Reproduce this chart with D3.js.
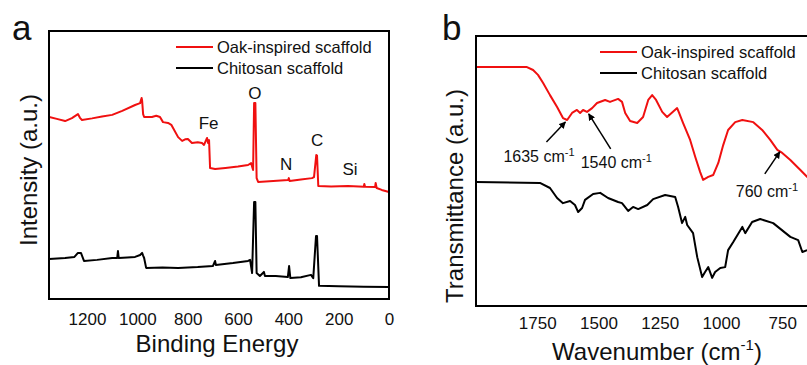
<!DOCTYPE html>
<html>
<head>
<meta charset="utf-8">
<script src="https://cdn.jsdelivr.net/npm/d3@7"></script>
<style>
  body { margin: 0; background: #fff; }
  text { font-family: "Liberation Sans", Arial, sans-serif; fill: #111; }
</style>
</head>
<body>
<script>
// ---- panel a: XPS survey (binding energy, eV) ----
var xpsOakEnergy = [1350, 1320, 1287, 1260, 1236, 1228, 1220, 1180, 1140, 1100, 1060, 1009, 989, 983, 981, 977, 973, 942, 925, 910, 898, 878, 865, 858, 838, 822, 810, 799, 783, 760, 743, 735, 723, 719, 715, 711, 691, 650, 600, 560, 548, 540, 536, 531, 526, 520, 460, 401, 398, 395, 350, 306, 298, 289, 286, 281, 230, 163, 120, 100, 98, 95, 55, 53, 49, 29, 0];
var xpsOakCounts = [67.9, 67.2, 66.4, 67.5, 69.0, 67.6, 66.8, 67.4, 68.1, 68.7, 70.2, 72.4, 73.1, 75.0, 74.0, 69.0, 67.9, 67.9, 68.4, 67.9, 66.0, 65.7, 65.0, 63.8, 60.4, 59.0, 59.6, 59.7, 58.2, 58.5, 58.2, 57.5, 60.1, 58.2, 59.3, 48.9, 48.5, 48.9, 49.4, 50.0, 50.7, 48.1, 73.1, 73.1, 45.1, 43.7, 44.0, 44.4, 45.1, 44.0, 44.6, 45.1, 45.5, 53.7, 53.5, 42.2, 42.0, 42.2, 42.0, 41.9, 42.9, 41.9, 41.8, 43.3, 41.4, 40.7, 39.9];
var xpsChiEnergy = [1350, 1287, 1250, 1236, 1224, 1212, 1160, 1100, 1080, 1077, 1074, 1040, 1009, 989, 981, 977, 973, 965, 900, 838, 760, 700, 691, 688, 620, 560, 552, 544, 536, 531, 526, 513, 497, 493, 450, 402, 397, 392, 350, 310, 301, 290, 286, 278, 200, 100, 0];
var xpsChiCounts = [14.9, 15.3, 15.7, 17.2, 17.2, 14.2, 14.6, 15.3, 15.3, 17.9, 15.3, 15.5, 15.7, 16.4, 17.2, 16.2, 15.3, 11.6, 11.8, 11.6, 11.9, 12.3, 14.2, 12.7, 13.4, 14.2, 14.6, 9.7, 36.2, 36.2, 9.7, 8.6, 10.1, 8.6, 8.6, 8.2, 12.3, 7.8, 8.1, 9.0, 7.8, 23.5, 23.5, 4.9, 4.8, 4.6, 4.5];
var xpsTicks = [1200, 1000, 800, 600, 400, 200, 0];
var xpsElements = ["Fe", "O", "N", "C", "Si"];
var xpsElementEnergy = [717, 533, 409, 286, 155];
var xpsElementLevel = [63.4, 74.6, 48.1, 57.1, 46.3];

// ---- panel b: FTIR (wavenumber, cm-1) ----
var ftirOakWave = [2000, 1792, 1767, 1747, 1726, 1698, 1669, 1645, 1628, 1608, 1588, 1575, 1563, 1547, 1526, 1506, 1473, 1453, 1420, 1404, 1391, 1371, 1342, 1318, 1297, 1281, 1265, 1240, 1220, 1196, 1179, 1171, 1155, 1126, 1105, 1085, 1073, 1052, 1032, 1011, 991, 971, 942, 913, 868, 832, 799, 770, 750, 717, 676, 648, 600];
var ftirOakTrans = [88.5, 88.5, 87.4, 85.6, 82.6, 78.1, 73.7, 69.6, 68.9, 71.5, 72.6, 71.5, 72.6, 71.9, 73.3, 75.2, 76.3, 75.6, 76.7, 75.6, 71.5, 68.5, 67.8, 70.0, 76.3, 78.1, 76.3, 71.9, 70.0, 71.9, 73.3, 71.5, 67.8, 61.5, 55.2, 49.6, 46.7, 47.8, 48.5, 53.0, 59.6, 65.2, 68.1, 68.9, 68.1, 65.2, 61.5, 57.8, 56.7, 54.1, 50.4, 47.8, 44.4];
var ftirChiWave = [2000, 1739, 1698, 1669, 1645, 1616, 1596, 1583, 1567, 1555, 1522, 1493, 1461, 1420, 1404, 1379, 1359, 1338, 1301, 1277, 1228, 1187, 1175, 1159, 1146, 1138, 1114, 1097, 1077, 1065, 1052, 1036, 1024, 1003, 983, 971, 950, 913, 901, 873, 840, 787, 717, 685, 668, 648, 600];
var ftirChiTrans = [45.9, 45.6, 43.7, 40.0, 38.1, 38.9, 37.4, 34.8, 36.3, 39.3, 41.5, 41.9, 40.0, 38.5, 38.1, 35.2, 36.7, 35.9, 37.4, 39.6, 41.1, 40.4, 36.7, 30.7, 33.0, 30.0, 27.0, 18.1, 10.7, 12.6, 14.4, 10.4, 12.6, 14.1, 14.4, 20.7, 23.7, 29.3, 27.0, 31.1, 32.2, 30.7, 25.6, 24.4, 20.0, 20.7, 22.6];
var ftirTicks = [1750, 1500, 1250, 1000, 750];
var ftirPeaks = [1635, 1540, 760];

var seriesNames = ["Oak-inspired scaffold", "Chitosan scaffold"];
var seriesColors = ["#f01010", "#000000"];

var width = 807, height = 365;

var svg = d3.select("body").append("svg")
    .attr("width", width)
    .attr("height", height);

var defs = svg.append("defs");
defs.append("marker")
    .attr("id", "arrow")
    .attr("viewBox", "0 0 10 10")
    .attr("refX", 9)
    .attr("refY", 5)
    .attr("markerWidth", 7)
    .attr("markerHeight", 7)
    .attr("markerUnits", "userSpaceOnUse")
    .attr("orient", "auto")
    .append("path")
    .attr("d", "M0,0 L10,5 L0,10 z")
    .attr("fill", "#000");

function zip(xs, ys) {
    return xs.map(function(x, i) { return {x: x, y: ys[i]} });
}

// draws frame, x axis, titles and legend for one panel
function drawPanel(cfg) {
    var xScale = d3.scaleLinear().domain(cfg.xDomain).range([cfg.left, cfg.right]);
    var yScale = d3.scaleLinear().domain([0, 100]).range([cfg.bottom, cfg.top]);

    var line = d3.line()
        .x(function(d) { return xScale(d.x) })
        .y(function(d) { return yScale(d.y) });

    var plot = svg.append("g");

    cfg.series.forEach(function(s, i) {
        plot.append("path")
            .datum(s)
            .attr("fill", "none")
            .attr("stroke", seriesColors[i])
            .attr("stroke-width", 2)
            .attr("stroke-linejoin", "round")
            .attr("d", line);
    });

    //frame
    plot.append("rect")
        .attr("x", cfg.left)
        .attr("y", cfg.top)
        .attr("width", cfg.frameRight - cfg.left)
        .attr("height", cfg.bottom - cfg.top)
        .attr("fill", "none")
        .attr("stroke", "#000")
        .attr("stroke-width", 2);

    //x axis
    var xAxis = d3.axisBottom(xScale)
        .tickValues(cfg.ticks)
        .tickSize(0)
        .tickPadding(cfg.tickPad)
        .tickFormat(d3.format("d"));
    var xg = svg.append("g")
        .attr("transform", "translate(0," + cfg.bottom + ")")
        .call(xAxis);
    xg.select(".domain").remove();
    xg.selectAll("text")
        .attr("font-size", 17)
        .attr("font-family", "Liberation Sans, Arial, sans-serif")
        .attr("fill", "#111");

    //panel letter
    svg.append("text")
        .attr("x", cfg.letterX)
        .attr("y", 40)
        .attr("font-size", 35)
        .text(cfg.letter);

    //y title
    svg.append("text")
        .attr("transform", "translate(" + cfg.yTitleX + "," + cfg.yTitleY + ") rotate(-90)")
        .attr("text-anchor", "middle")
        .attr("font-size", 24)
        .text(cfg.yTitle);

    //legend
    seriesNames.forEach(function(name, i) {
        var ly = cfg.legendY + i * 21;
        svg.append("line")
            .attr("x1", cfg.legendX)
            .attr("x2", cfg.legendX + 37)
            .attr("y1", ly)
            .attr("y2", ly)
            .attr("stroke", seriesColors[i])
            .attr("stroke-width", 2);
        svg.append("text")
            .attr("x", cfg.legendX + 41)
            .attr("y", ly + 6)
            .attr("font-size", 16.5)
            .text(name);
    });

    return {x: xScale, y: yScale};
}

// ---- panel a ----
var a = drawPanel({
    letter: "a", letterX: 12,
    xDomain: [1351, 0], left: 49, right: 389, frameRight: 389,
    top: 31, bottom: 299, tickPad: 14,
    ticks: xpsTicks,
    series: [zip(xpsOakEnergy, xpsOakCounts), zip(xpsChiEnergy, xpsChiCounts)],
    yTitle: "Intensity (a.u.)", yTitleX: 37, yTitleY: 170,
    legendX: 176, legendY: 47
});

svg.append("text")
    .attr("x", 217)
    .attr("y", 352)
    .attr("text-anchor", "middle")
    .attr("font-size", 24)
    .text("Binding Energy");

xpsElements.forEach(function(el, i) {
    svg.append("text")
        .attr("x", a.x(xpsElementEnergy[i]))
        .attr("y", a.y(xpsElementLevel[i]))
        .attr("text-anchor", "middle")
        .attr("font-size", 17)
        .text(el);
});

// ---- panel b ----
var b = drawPanel({
    letter: "b", letterX: 442,
    xDomain: [2000, 600], left: 476, right: 819, frameRight: 819,
    top: 36, bottom: 306, tickPad: 11,
    ticks: ftirTicks,
    series: [zip(ftirOakWave, ftirOakTrans), zip(ftirChiWave, ftirChiTrans)],
    yTitle: "Transmittance (a.u.)", yTitleX: 463, yTitleY: 196,
    legendX: 600, legendY: 52
});

var wt = svg.append("text")
    .attr("x", 657)
    .attr("y", 360)
    .attr("text-anchor", "middle")
    .attr("font-size", 24);
wt.append("tspan").text("Wavenumber (cm");
wt.append("tspan").attr("dy", -10).attr("font-size", 15).text("-1");
wt.append("tspan").attr("dy", 10).text(")");

//peak annotations: label position and arrow tail offsets (px)
var peakLabel = [{dx: -62, dy: 40, tx: -19, ty: 20}, {dx: -8, dy: 54, tx: 22, ty: 35}, {dx: -44, dy: 45, tx: -15, ty: 22}];

ftirPeaks.forEach(function(p, i) {
    // nearest recorded point on the trace
    var j = d3.leastIndex(ftirOakWave, function(w) { return Math.abs(w - p) });
    var px = b.x(p), py = b.y(ftirOakTrans[j]) + 2;
    var o = peakLabel[i];
    svg.append("line")
        .attr("x1", px + o.tx)
        .attr("y1", py + o.ty)
        .attr("x2", px)
        .attr("y2", py)
        .attr("stroke", "#000")
        .attr("stroke-width", 1.5)
        .attr("marker-end", "url(#arrow)");
    var t = svg.append("text")
        .attr("x", px + o.dx)
        .attr("y", py + o.dy)
        .attr("font-size", 16);
    t.append("tspan").text(p + " cm");
    t.append("tspan").attr("dy", -6).attr("font-size", 11).text("-1");
});
</script>
</body>
</html>
